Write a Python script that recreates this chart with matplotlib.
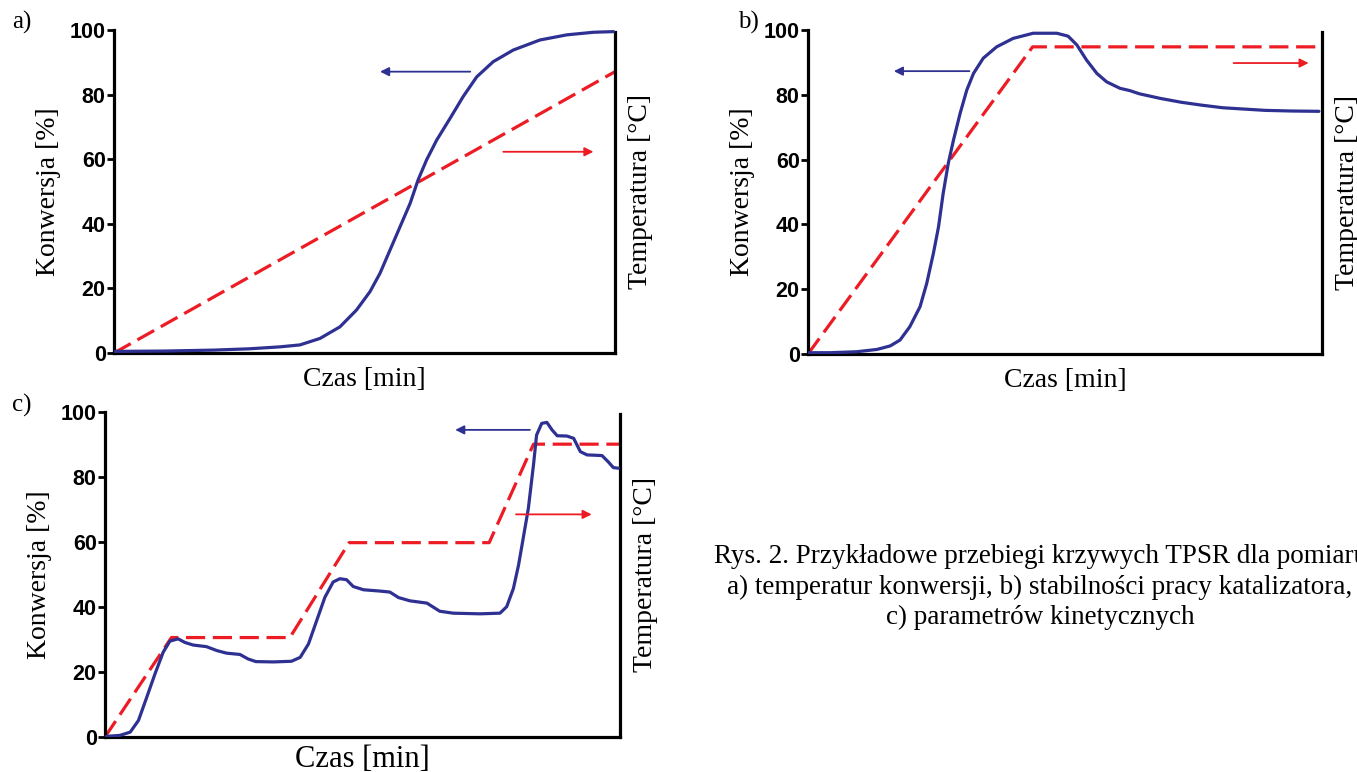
import numpy as np
import matplotlib
matplotlib.use("Agg")
import matplotlib.pyplot as plt

# ---------------- data (time scaled 0..100, conversion in %) ----------------
# a) conversion temperature
a_time = [0, 10, 20, 27, 33.1, 37.1, 41.1, 45.1, 48.4, 51.1, 53.1, 55.1, 57.1,
          59.1, 60.7, 62.4, 64.4, 67.1, 69.7, 72.4, 75.7, 79.7, 85.0, 90.4,
          95.7, 99.7]
a_conv = [0.5, 0.6, 0.9, 1.3, 1.9, 2.5, 4.5, 8.1, 13.3, 19.0, 24.7, 31.9, 39.1,
          46.3, 53.6, 59.8, 65.9, 72.7, 79.4, 85.5, 90.2, 93.8, 96.9, 98.5,
          99.3, 99.5]
a_temp_time = [0, 100]
a_temp = [0, 87.1]

# b) catalyst stability
b_time = [0, 4.3, 9.5, 13.4, 16.0, 17.9, 19.8, 21.8, 23.1, 24.4, 25.4, 26.3,
          27.3, 28.3, 29.6, 30.9, 32.2, 34.1, 36.7, 39.9, 43.8, 48.4, 50.6,
          52.3, 54.2, 56.2, 58.1, 60.7, 62.6, 64.5, 68.5, 72.6, 76.6, 80.7,
          84.8, 88.9, 94.0, 99.4]
b_conv = [0.4, 0.4, 0.7, 1.4, 2.5, 4.3, 8.4, 14.6, 21.8, 31.1, 39.3, 49.6,
          58.9, 66.0, 74.3, 81.5, 86.6, 91.3, 94.8, 97.4, 99.0, 99.0, 98.1,
          95.4, 90.7, 86.6, 84.0, 82.0, 81.3, 80.3, 78.9, 77.7, 76.8, 76.0,
          75.6, 75.2, 75.0, 74.9]
b_temp_time = [0, 43.7, 100]
b_temp = [0, 94.8, 94.8]

# c) kinetic parameters
c_time = [0, 0.3, 2.9, 4.9, 6.5, 8.1, 9.7, 11.3, 12.6, 14.2, 15.5, 17.1, 19.7,
          21.7, 23.6, 26.2, 27.8, 29.3, 32.7, 36.2, 37.9, 39.5, 41.1, 42.7,
          44.3, 45.6, 46.9, 48.2, 50.2, 53.4, 55.3, 57.0, 59.2, 62.5, 63.7,
          65.0, 67.6, 72.8, 76.7, 78.0, 79.3, 80.3, 81.2, 82.2, 83.2, 83.8,
          84.8, 85.8, 86.8, 87.8, 89.7, 91.0, 92.3, 93.6, 96.5, 97.7, 98.7,
          99.7]
c_conv = [0, 0.2, 0.5, 1.5, 5.1, 12.2, 19.4, 26.1, 29.5, 30.2, 29.1, 28.3,
          27.8, 26.6, 25.8, 25.4, 24.0, 23.2, 23.1, 23.3, 24.5, 28.6, 35.8,
          43.0, 47.7, 48.7, 48.4, 46.3, 45.3, 44.9, 44.6, 42.9, 41.9, 41.2,
          40.0, 38.7, 38.1, 37.9, 38.1, 40.1, 45.7, 52.9, 61.1, 70.3, 83.7,
          92.9, 96.5, 96.8, 94.5, 92.7, 92.6, 91.9, 87.8, 86.8, 86.6, 84.7,
          82.9, 82.7]
c_temp_time = [0, 12.9, 35.9, 47.4, 74.6, 83.2, 100]
c_temp = [0, 30.6, 30.6, 59.8, 59.8, 90.1, 90.1]

yticks = [0, 20, 40, 60, 80, 100]
caption = ("Rys. 2. Przykładowe przebiegi krzywych TPSR dla pomiaru\n"
           "a) temperatur konwersji, b) stabilności pracy katalizatora,\n"
           "c) parametrów kinetycznych")

BLUE = "#2E3192"
RED = "#ED1C24"
SERIF = "Liberation Serif"
SANS = "Liberation Sans"

W, H = 1357, 772
fig = plt.figure(figsize=(W / 100, H / 100), dpi=100)


def px_axes(left, right, top, bottom):
    return fig.add_axes([left / W, (H - bottom) / H, (right - left) / W, (bottom - top) / H])


def panel(ax, t, conv, tt, temp, blue_arr, red_arr, xl_size=20, xl_pad=10):
    ax.plot(tt, temp, color=RED, lw=2.3, ls=(0, (6, 2.4)), zorder=2)
    ax.plot(t, conv, color=BLUE, lw=2.3, solid_joinstyle="round",
            solid_capstyle="round", zorder=3)
    ax.set_xlim(0, 100)
    ax.set_ylim(0, 100)
    ax.set_xticks([])
    ax.set_yticks(yticks)
    ax.set_yticklabels([str(v) for v in yticks], fontfamily=SANS,
                       fontweight="bold", fontsize=15.5)
    ax.tick_params(axis="y", length=5, width=2, pad=1)
    for s in ["left", "bottom", "right"]:
        ax.spines[s].set_linewidth(2.3)
    ax.spines["top"].set_visible(False)
    ax.spines["right"].set_bounds(0, 99.5)
    ax.set_ylabel("Konwersja [%]", fontfamily=SERIF, fontsize=20, labelpad=6)
    ax.set_xlabel("Czas [min]", fontfamily=SERIF, fontsize=xl_size, labelpad=xl_pad)
    ax.text(1.05, 0.5, "Temperatura [°C]", transform=ax.transAxes, rotation=90,
            ha="center", va="center", fontfamily=SERIF, fontsize=20)
    (bx0, bx1, by) = blue_arr
    ax.annotate("", xy=(bx1, by), xytext=(bx0, by),
                arrowprops=dict(arrowstyle="-|>", color=BLUE, lw=1.3,
                                mutation_scale=13, shrinkA=0, shrinkB=0))
    (rx0, rx1, ry) = red_arr
    ax.annotate("", xy=(rx1, ry), xytext=(rx0, ry),
                arrowprops=dict(arrowstyle="-|>", color=RED, lw=1.3,
                                mutation_scale=13, shrinkA=0, shrinkB=0))


ax_a = px_axes(114, 615, 30, 353)
panel(ax_a, a_time, a_conv, a_temp_time, a_temp, (71.1, 53.1, 87.1), (77.7, 95.7, 62.3))

ax_b = px_axes(808, 1322, 30, 354)
panel(ax_b, b_time, b_conv, b_temp_time, b_temp, (31.4, 16.7, 87.3), (82.8, 97.4, 89.8))

ax_c = px_axes(105, 620, 412, 737)
panel(ax_c, c_time, c_conv, c_temp_time, c_temp, (82.5, 68.0, 94.5), (79.8, 94.5, 68.5),
      xl_size=22, xl_pad=6)

fig.text(12 / W, 1 - 22 / H, "a)", fontfamily=SERIF, fontsize=18, ha="left", va="center")
fig.text(738 / W, 1 - 22 / H, "b)", fontfamily=SERIF, fontsize=18, ha="left", va="center")
fig.text(12 / W, 1 - 405 / H, "c)", fontfamily=SERIF, fontsize=18, ha="left", va="center")

fig.text(1040 / W, 1 - 587 / H, caption, fontfamily=SERIF, fontsize=19.5,
         ha="center", va="center", linespacing=1.3)

fig.savefig("out.png", dpi=100)
